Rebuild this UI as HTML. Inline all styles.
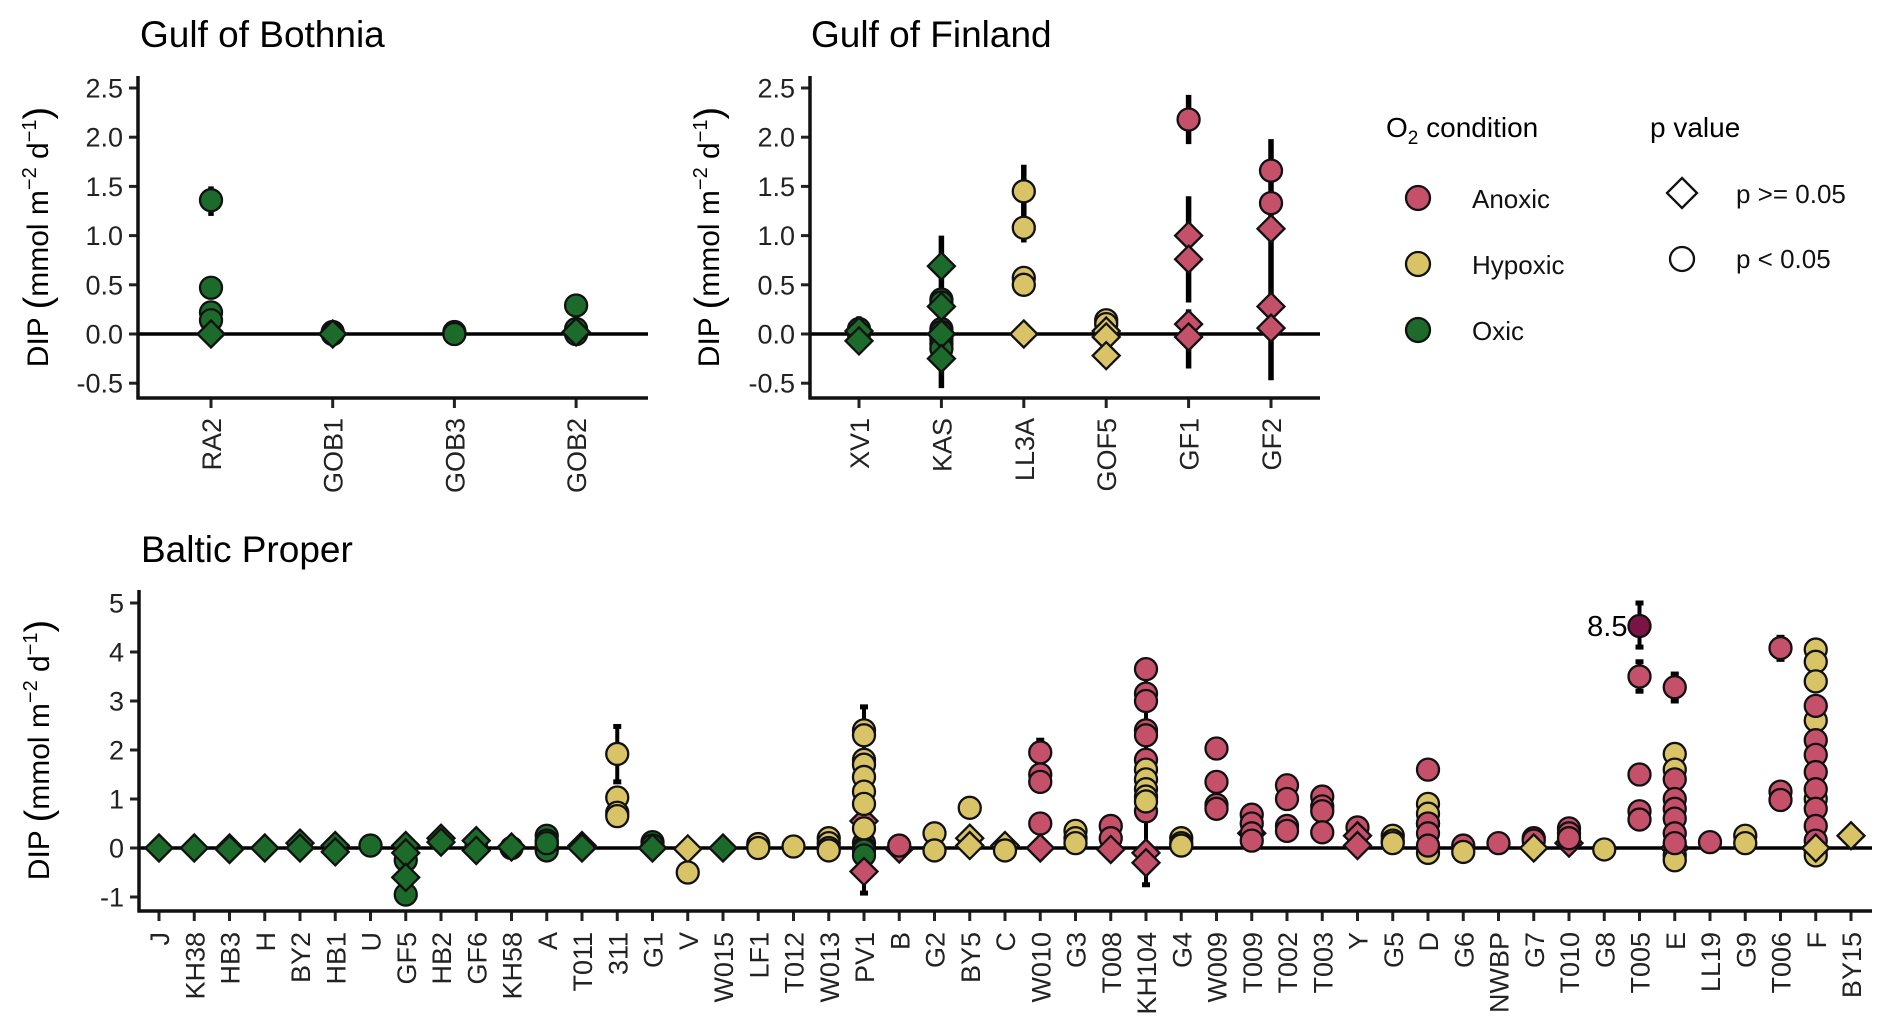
<!DOCTYPE html>
<html><head><meta charset="utf-8"><style>
html,body{margin:0;padding:0;background:#fff;}
svg{display:block;font-family:"Liberation Sans",Arial,sans-serif;}
</style></head><body>
<svg id="chart" width="1892" height="1030" viewBox="0 0 1892 1030" xmlns="http://www.w3.org/2000/svg"></svg>
<script>
// ---------- DATA ----------
const gobCats = ["RA2","GOB1","GOB3","GOB2"];
// [category, value, condition, shape]  A=anoxic H=hypoxic O=oxic ; c=circle(p<0.05) d=diamond(p>=0.05)
const gobPts = [
 ["RA2",1.36,"O","c"],["RA2",0.47,"O","c"],["RA2",0.22,"O","c"],["RA2",0.14,"O","c"],["RA2",0.0,"O","d"],
 ["GOB1",0.02,"O","c"],["GOB1",0.0,"O","c"],["GOB1",0.0,"O","d"],
 ["GOB3",0.02,"O","c"],["GOB3",0.0,"O","c"],
 ["GOB2",0.29,"O","c"],["GOB2",0.05,"O","c"],["GOB2",0.0,"O","c"],["GOB2",0.02,"O","d"]
];
const gobErr = [["RA2",1.2,1.5],["RA2",0.4,0.56]];

const gofCats = ["XV1","KAS","LL3A","GOF5","GF1","GF2"];
const gofPts = [
 ["XV1",0.05,"O","c"],["XV1",0.0,"O","c"],["XV1",0.03,"O","d"],["XV1",-0.07,"O","d"],
 ["KAS",0.35,"O","c"],["KAS",0.32,"O","c"],["KAS",0.05,"O","c"],["KAS",0.02,"O","c"],["KAS",-0.05,"O","c"],["KAS",-0.1,"O","c"],["KAS",-0.15,"O","c"],
 ["KAS",0.69,"O","d"],["KAS",0.28,"O","d"],["KAS",0.0,"O","d"],["KAS",-0.25,"O","d"],
 ["LL3A",1.45,"H","c"],["LL3A",1.08,"H","c"],["LL3A",0.57,"H","c"],["LL3A",0.5,"H","c"],["LL3A",0.0,"H","d"],
 ["GOF5",0.14,"H","c"],["GOF5",0.1,"H","c"],["GOF5",0.03,"H","d"],["GOF5",-0.03,"H","d"],["GOF5",-0.22,"H","d"],
 ["GF1",2.18,"A","c"],["GF1",1.0,"A","d"],["GF1",0.76,"A","d"],["GF1",0.1,"A","d"],["GF1",-0.03,"A","d"],
 ["GF2",1.66,"A","c"],["GF2",1.33,"A","c"],["GF2",1.07,"A","d"],["GF2",0.28,"A","d"],["GF2",0.06,"A","d"]
];
const gofErr = [["XV1",-0.15,0.18],["KAS",-0.55,1.0],["LL3A",0.93,1.72],["LL3A",0.4,0.62],["GOF5",-0.1,0.05],
 ["GF1",1.93,2.43],["GF1",0.32,1.4],["GF1",-0.35,0.25],["GF2",-0.47,1.98]];

const bpCats = ["J","KH38","HB3","H","BY2","HB1","U","GF5","HB2","GF6","KH58","A","T011","311","G1","V","W015","LF1","T012","W013","PV1","B","G2","BY5","C","W010","G3","T008","KH104","G4","W009","T009","T002","T003","Y","G5","D","G6","NWBP","G7","T010","G8","T005","E","LL19","G9","T006","F","BY15"];
const bpPts = [
 ["J",0,"O","d"],["KH38",0,"O","d"],["HB3",0,"O","d"],["HB3",-0.03,"O","d"],["H",0,"O","d"],
 ["BY2",0.1,"O","d"],["BY2",0,"O","d"],["HB1",0.05,"O","d"],["HB1",-0.08,"O","d"],["U",0.05,"O","c"],
 ["GF5",-0.25,"O","c"],["GF5",-0.95,"O","c"],["GF5",0.05,"O","d"],["GF5",-0.1,"O","d"],["GF5",-0.6,"O","d"],
 ["HB2",0.2,"O","d"],["HB2",0.12,"O","d"],["GF6",0,"O","c"],["GF6",0.15,"O","d"],["GF6",-0.05,"O","d"],
 ["KH58",0,"O","c"],["KH58",0.02,"O","d"],
 ["A",0.25,"O","c"],["A",0.15,"O","c"],["A",0.05,"O","c"],["A",-0.05,"O","c"],["A",0.1,"O","c"],
 ["T011",0.05,"O","d"],["T011",0,"O","d"],
 ["311",1.92,"H","c"],["311",1.03,"H","c"],["311",0.72,"H","c"],["311",0.65,"H","c"],
 ["G1",0.12,"O","c"],["G1",0.05,"O","c"],["G1",0,"O","d"],
 ["V",-0.02,"H","d"],["V",-0.5,"H","c"],["W015",0,"O","d"],
 ["LF1",0.08,"H","c"],["LF1",0,"H","c"],["T012",0.03,"H","c"],
 ["W013",0.2,"H","c"],["W013",0.1,"H","c"],["W013",0,"H","c"],["W013",-0.05,"H","c"],
 ["PV1",0.1,"O","c"],["PV1",0,"O","c"],["PV1",-0.05,"O","c"],["PV1",-0.15,"O","c"],
 ["PV1",0.55,"A","d"],["PV1",-0.48,"A","d"],
 ["PV1",2.4,"H","c"],["PV1",2.3,"H","c"],["PV1",1.8,"H","c"],["PV1",1.7,"H","c"],["PV1",1.45,"H","c"],["PV1",1.15,"H","c"],["PV1",0.9,"H","c"],["PV1",0.4,"H","c"],
 ["B",-0.02,"A","d"],["B",0.05,"A","c"],
 ["G2",0.3,"H","c"],["G2",-0.05,"H","c"],
 ["BY5",0.82,"H","c"],["BY5",0.2,"H","d"],["BY5",0.05,"H","d"],
 ["C",0.05,"H","d"],["C",-0.05,"H","c"],
 ["W010",1.95,"A","c"],["W010",1.5,"A","c"],["W010",1.35,"A","c"],["W010",0.5,"A","c"],["W010",0,"A","d"],
 ["G3",0.35,"H","c"],["G3",0.2,"H","c"],["G3",0.1,"H","c"],
 ["T008",0.45,"A","c"],["T008",0.2,"A","c"],["T008",-0.03,"A","d"],
 ["KH104",0.75,"A","c"],["KH104",3.65,"A","c"],["KH104",3.15,"A","c"],["KH104",3.0,"A","c"],["KH104",2.4,"A","c"],["KH104",2.3,"A","c"],["KH104",1.8,"A","c"],
 ["KH104",1.6,"H","c"],["KH104",1.4,"H","c"],["KH104",1.2,"H","c"],["KH104",1.05,"H","c"],["KH104",0.95,"H","c"],
 ["KH104",-0.1,"A","d"],["KH104",-0.3,"A","d"],
 ["G4",0.2,"H","c"],["G4",0.1,"H","c"],["G4",0.05,"H","c"],
 ["W009",2.03,"A","c"],["W009",1.35,"A","c"],["W009",0.88,"A","c"],["W009",0.8,"A","c"],
 ["T009",0.3,"A","d"],["T009",0.68,"A","c"],["T009",0.5,"A","c"],["T009",0.3,"A","c"],["T009",0.15,"A","c"],
 ["T002",1.28,"A","c"],["T002",1.0,"A","c"],["T002",0.45,"A","c"],["T002",0.35,"A","c"],
 ["T003",1.05,"A","c"],["T003",0.85,"A","c"],["T003",0.75,"A","c"],["T003",0.32,"A","c"],
 ["Y",0.42,"A","c"],["Y",0.25,"A","d"],["Y",0.05,"A","d"],
 ["G5",0.25,"H","c"],["G5",0.15,"H","c"],["G5",0.1,"H","c"],
 ["D",0.9,"H","c"],["D",0.7,"H","c"],["D",0.5,"H","c"],["D",-0.1,"H","c"],
 ["D",1.6,"A","c"],["D",0.5,"A","c"],["D",0.3,"A","c"],["D",0.05,"A","c"],
 ["G6",0.05,"A","c"],["G6",-0.08,"H","c"],["NWBP",0.1,"A","c"],
 ["G7",0.2,"A","c"],["G7",0.15,"A","c"],["G7",0,"H","d"],
 ["T010",0.1,"A","d"],["T010",0.4,"A","c"],["T010",0.3,"A","c"],["T010",0.2,"A","c"],
 ["G8",-0.03,"H","c"],
 ["T005",3.5,"A","c"],["T005",1.5,"A","c"],["T005",0.75,"A","c"],["T005",0.58,"A","c"],
 ["E",0,"A","d"],["E",-0.15,"H","c"],["E",-0.25,"H","c"],["E",1.92,"H","c"],["E",1.6,"H","c"],
 ["E",3.28,"A","c"],["E",1.4,"A","c"],["E",1.0,"A","c"],["E",0.8,"A","c"],["E",0.6,"A","c"],["E",0.3,"A","c"],["E",0.1,"A","c"],
 ["LL19",0.12,"A","c"],["G9",0.25,"H","c"],["G9",0.1,"H","c"],
 ["T006",4.08,"A","c"],["T006",1.15,"A","c"],["T006",0.98,"A","c"],
 ["F",-0.05,"H","c"],["F",-0.15,"H","c"],["F",4.05,"H","c"],["F",3.8,"H","c"],["F",3.4,"H","c"],["F",2.6,"H","c"],["F",1.0,"H","c"],
 ["F",2.9,"A","c"],["F",2.2,"A","c"],["F",1.9,"A","c"],["F",1.55,"A","c"],["F",1.2,"A","c"],["F",0.8,"A","c"],["F",0.45,"A","c"],["F",0.15,"A","c"],
 ["F",0,"H","d"],["BY15",0.25,"H","d"]
];
const bpErr = [["311",1.35,2.48],["PV1",-0.92,2.88],["W010",1.75,2.2],["KH104",-0.75,3.7],["W009",1.85,2.2],
 ["T005",3.2,3.8],["E",3.0,3.55],["T006",3.85,4.3]];
const bpOutlier = {cat:"T005", shown:4.53, label:"8.5", lo:4.1, hi:5.0};

const colors = {A:"#c4506a", H:"#d8c366", O:"#1c6b2b"};

// ---------- DRAWING ----------
const svg = document.getElementById('chart');
const NS = "http://www.w3.org/2000/svg";
function mk(tag, attrs, parent){
  const e = document.createElementNS(NS, tag);
  for (const k in attrs) e.setAttribute(k, attrs[k]);
  (parent||svg).appendChild(e);
  return e;
}
function txt(str, attrs, parent){ const t = mk('text', attrs, parent); t.textContent = str; return t; }

function panel(cfg){
  const g = mk('g', {});
  
  
  const y = v => cfg.y0 - v*cfg.unit;
  const x = c => cfg.x1 + cfg.cats.indexOf(c)*cfg.step;
  const t = txt(cfg.title, {x:cfg.titleX, y:cfg.titleY, 'font-size':37, fill:'#000'}, g);
  
  
  cfg.ticks.forEach((v,i)=>{
    mk('line', {x1:cfg.ax-9, x2:cfg.ax, y1:y(v), y2:y(v), stroke:'#222', 'stroke-width':3}, g);
    const l = txt(cfg.tickLabels[i], {x:cfg.ax-15, y:y(v)+9.5, 'font-size':27, 'text-anchor':'end', fill:'#222'}, g);
    
    
  });
  const yt = mk('text', {transform:`translate(${cfg.ytx},${cfg.ytc}) rotate(-90)`, 'font-size':30, 'text-anchor':'middle', fill:'#000'}, g);
  
  
  yt.innerHTML = 'DIP <tspan font-size="38" dy="2">(</tspan><tspan dy="-2">mmol m</tspan><tspan font-size="20" dy="-12">−2</tspan><tspan dy="12"> d</tspan><tspan font-size="20" dy="-12">−1</tspan><tspan font-size="38" dy="14">)</tspan>';
  const zl = mk('line', {x1:cfg.ax, x2:cfg.xEnd, y1:y(0), y2:y(0), stroke:'#000', 'stroke-width':3.5}, g);
  
  
  cfg.cats.forEach(c=>{
    mk('line', {x1:x(c), x2:x(c), y1:cfg.xAxisY, y2:cfg.xAxisY+10, stroke:'#222', 'stroke-width':3}, g);
    const l = mk('text', {transform:`translate(${x(c)+10},${cfg.labY}) rotate(-90)`, 'font-size':27, 'text-anchor':'end', fill:'#222'}, g);
    l.textContent = c;
    
    
  });
  const ya = mk('line', {x1:cfg.ax, x2:cfg.ax, y1:cfg.axTop, y2:cfg.xAxisY+1.5, stroke:'#111', 'stroke-width':3.5}, g);
   
  const xa = mk('line', {x1:cfg.ax-1.5, x2:cfg.xEnd, y1:cfg.xAxisY, y2:cfg.xAxisY, stroke:'#111', 'stroke-width':3.5}, g);
   
  cfg.err.forEach(e=>{
    const eb = mk('line', {x1:x(e[0]), x2:x(e[0]), y1:y(e[1]), y2:y(e[2]), stroke:'#000', 'stroke-width':cfg.caps?4:5.5}, g);
    
    
    if (cfg.caps){
      [e[1],e[2]].forEach(v=> mk('line', {x1:x(e[0])-4, x2:x(e[0])+4, y1:y(v), y2:y(v), stroke:'#000', 'stroke-width':5}, g));
    }
  });
  cfg.pts.forEach(p=>{
    drawMark(g, x(p[0]), y(p[1]), p[3], colors[p[2]], p[0]);
  });
  return {x, y, g};
}
function drawMark(g, cx, cy, shape, fill, cat){
  let m;
  if (shape === 'c') m = mk('circle', {cx:cx, cy:cy, r:11, fill:fill, stroke:'#111', 'stroke-width':2.3}, g);
  else { const s = 13.5; m = mk('polygon', {points:`${cx},${cy-s} ${cx+s},${cy} ${cx},${cy+s} ${cx-s},${cy}`, fill:fill, stroke:'#111', 'stroke-width':2.3}, g); }
  
  
  return m;
}

const topTicks = [-0.5,0,0.5,1,1.5,2,2.5];
const topTickLabels = ["-0.5","0.0","0.5","1.0","1.5","2.0","2.5"];
const botTicks = [-1,0,1,2,3,4,5];
const botTickLabels = ["-1","0","1","2","3","4","5"];

panel({name:'gulf-of-bothnia-panel', title:'Gulf of Bothnia', titleX:140, titleY:47, cats:gobCats, pts:gobPts, err:gobErr,
  ax:138, xEnd:648, axTop:76, xAxisY:398, y0:334, unit:98.4, x1:211, step:121.7, ticks:topTicks, tickLabels:topTickLabels,
  ytx:48, ytc:237, labY:418, caps:false});
panel({name:'gulf-of-finland-panel', title:'Gulf of Finland', titleX:811, titleY:47, cats:gofCats, pts:gofPts, err:gofErr,
  ax:810, xEnd:1320, axTop:76, xAxisY:398, y0:334, unit:98.4, x1:859, step:82.4, ticks:topTicks, tickLabels:topTickLabels,
  ytx:719, ytc:237, labY:418, caps:false});
const bp = panel({name:'baltic-proper-panel', title:'Baltic Proper', titleX:141, titleY:562, cats:bpCats, pts:bpPts, err:bpErr,
  ax:139, xEnd:1872, axTop:590, xAxisY:911, y0:848, unit:49, x1:159, step:35.25, ticks:botTicks, tickLabels:botTickLabels,
  ytx:49, ytc:750, labY:932, caps:true});
{
  const ox = bp.x(bpOutlier.cat);
  mk('line', {x1:ox, x2:ox, y1:bp.y(bpOutlier.lo), y2:bp.y(bpOutlier.hi), stroke:'#000', 'stroke-width':4}, bp.g);
  [bpOutlier.lo,bpOutlier.hi].forEach(v=> mk('line', {x1:ox-4, x2:ox+4, y1:bp.y(v), y2:bp.y(v), stroke:'#000', 'stroke-width':5}, bp.g));
  drawMark(bp.g, ox, bp.y(bpOutlier.shown), 'c', '#7a1444', bpOutlier.cat);
  const ol = txt(bpOutlier.label, {x:ox-12, y:bp.y(bpOutlier.shown)+10, 'font-size':29, 'text-anchor':'end', fill:'#000'}, bp.g);
  
  
}

// ---------- LEGEND ----------
const lg = mk('g', {});


const lt1 = mk('text', {x:1386, y:137, 'font-size':28, fill:'#000'}, lg);
lt1.innerHTML = 'O<tspan font-size="19" dy="7">2</tspan><tspan dy="-7"> condition</tspan>';


const condNames = ["Anoxic","Hypoxic","Oxic"];
const condKeys = ["A","H","O"];
condNames.forEach((n,i)=>{
  const cy = 198 + i*66;
  const c = mk('circle', {cx:1418, cy:cy, r:12, fill:colors[condKeys[i]], stroke:'#111', 'stroke-width':2.3}, lg);
  
  
  const t = txt(n, {x:1472, y:cy+10, 'font-size':26, fill:'#111'}, lg);
  
  
});
const lt2 = txt('p value', {x:1650, y:137, 'font-size':28, fill:'#000'}, lg);


const dk = mk('polygon', {points:'1682,178 1697,193 1682,208 1667,193', fill:'#fff', stroke:'#111', 'stroke-width':2.3}, lg);


const ck = mk('circle', {cx:1682, cy:259, r:12, fill:'#fff', stroke:'#111', 'stroke-width':2.3}, lg);


const p1 = txt('p >= 0.05', {x:1736, y:203, 'font-size':26, fill:'#111'}, lg);


const p2 = txt('p < 0.05', {x:1736, y:268, 'font-size':26, fill:'#111'}, lg);


</script>
</body></html>
